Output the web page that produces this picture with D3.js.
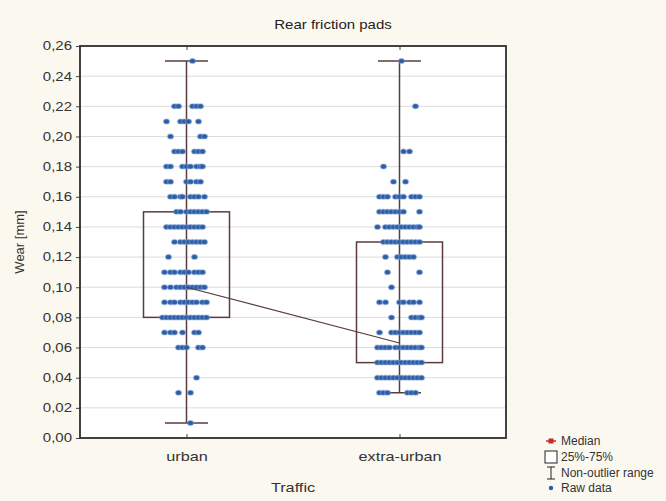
<!DOCTYPE html>
<html>
<head>
<meta charset="utf-8">
<script src="https://cdn.jsdelivr.net/npm/d3@7"></script>
<style>
  html, body { margin: 0; padding: 0; background: #fbf8f0; }
  svg { display: block; font-family: "Liberation Sans", Arial, sans-serif; }
</style>
</head>
<body>
<svg id="chart" width="666" height="501"></svg>
<script>
// Box plot summary per traffic type
const categories = ["urban", "extra-urban"];
const medians = [0.10, 0.063];
const q25 = [0.08, 0.05];
const q75 = [0.15, 0.13];
const whiskerLow = [0.01, 0.03];
const whiskerHigh = [0.25, 0.25];

// Y axis ticks
const yTicks = [0, 0.02, 0.04, 0.06, 0.08, 0.10, 0.12, 0.14, 0.16, 0.18, 0.20, 0.22, 0.24, 0.26];

// Raw measurements: each row is a wear level and the jitter slots of the points at that level
const urbanRaw = [
  [0.25, [3]],
  [0.22, [-6, -4, 3, 5, 7]],
  [0.21, [-10, -3, -1, 1, 6]],
  [0.20, [-8, 7, 9]],
  [0.19, [-6, -4, -2, 4, 6, 8]],
  [0.18, [-10, -8, -2, 0, 2, 5, 7, 8]],
  [0.17, [-10, -8, 0, 2, 5, 7]],
  [0.16, [-8, -6, -3, -2, 2, 4, 6, 9]],
  [0.15, [-5, -3, 0, 2, 4, 6, 8, 10]],
  [0.14, [-10, -8, -6, -4, -2, 0, 2, 4, 6, 8]],
  [0.13, [-6, -3, -1, 1, 3, 5, 7, 9]],
  [0.12, [-9, 4]],
  [0.11, [-11, -8, -6, -3, -1, 1, 4, 6, 8]],
  [0.10, [-11, -8, -5, -3, -1, 1, 3, 5, 7, 9]],
  [0.09, [-11, -8, -6, -3, -1, 1, 3, 5, 8, 10]],
  [0.08, [-12, -10, -8, -6, -4, -2, 0, 2, 4, 6, 8, 10]],
  [0.07, [-11, -8, -6, -2, 4, 6]],
  [0.06, [-4, -2, 0, 6, 8]],
  [0.04, [5]],
  [0.03, [-4, 2]],
  [0.01, [2]]
];
const extraUrbanRaw = [
  [0.25, [1]],
  [0.22, [8]],
  [0.19, [2, 5]],
  [0.18, [-8]],
  [0.17, [-3, 3]],
  [0.16, [-10, -8, -6, -2, 0, 2, 6, 8, 10]],
  [0.15, [-10, -8, -6, -4, -2, 0, 2, 10]],
  [0.14, [-11, -7, -5, -3, -1, 1, 3, 5, 7, 9, 10]],
  [0.13, [-8, -6, -4, -2, 0, 2, 4, 6, 8, 10]],
  [0.12, [-7, -1, 1, 3, 5, 7]],
  [0.11, [-6, 10]],
  [0.10, [-4]],
  [0.09, [-10, -7, 0, 2, 5, 7, 10]],
  [0.08, [-4, 6, 8, 10, 11]],
  [0.07, [-10, -4, -2, 0, 2, 4, 6, 8, 10]],
  [0.06, [-11, -9, -7, -5, -2, 0, 2, 4, 6, 8, 10, 11]],
  [0.05, [-11, -9, -7, -5, -3, -1, 1, 3, 5, 7, 9, 11]],
  [0.04, [-11, -9, -7, -5, -3, -1, 1, 3, 5, 7, 9, 11]],
  [0.03, [-10, -8, -6, 4, 6, 8]]
];
const rawByCategory = [urbanRaw, extraUrbanRaw];

const legendLabels = ["Median", "25%-75%", "Non-outlier range", "Raw data"];

const W = 666, H = 501;
const margin = { left: 80, right: 160, top: 46, bottom: 63 };
const svg = d3.select("#chart");

const x = d3.scalePoint().domain(categories).range([margin.left, W - margin.right]).padding(0.5);
const y = d3.scaleLinear().domain([0, 0.26]).range([H - margin.bottom, margin.top]);
const jitter = d3.scaleLinear().domain([-12, 12]).range([-24, 24]);
const boxHalf = 43, capHalf = 21.5;
const fmt = v => d3.format(".2f")(v).replace(".", ",");
const wide = 1.25; // horizontal text stretch

const boxColor = "#5a3c3c";
const dotColor = "#2c5ca6";

// plot area
svg.append("rect")
  .attr("x", margin.left).attr("y", margin.top)
  .attr("width", W - margin.right - margin.left).attr("height", H - margin.bottom - margin.top)
  .attr("fill", "#ffffff");

// horizontal grid
svg.append("g").selectAll("line").data(yTicks.slice(1, -1)).join("line")
  .attr("x1", margin.left).attr("x2", W - margin.right)
  .attr("y1", d => y(d)).attr("y2", d => y(d))
  .attr("stroke", "#dcdcdc").attr("stroke-width", 1);

// y axis
const yAxis = svg.append("g")
  .attr("transform", `translate(${margin.left},0)`)
  .call(d3.axisLeft(y).tickValues(yTicks).tickFormat(fmt).tickSize(4).tickPadding(2.4));
yAxis.select(".domain").remove();
yAxis.selectAll("line").attr("stroke", "#444");
yAxis.selectAll("text").attr("font-size", 12).attr("fill", "#333")
  .attr("transform", `scale(${wide},1)`);

// category axis
const xAxis = svg.append("g")
  .attr("transform", `translate(0,${H - margin.bottom})`)
  .call(d3.axisBottom(x).tickSize(-4).tickPadding(14));
xAxis.select(".domain").remove();
xAxis.selectAll("line").attr("stroke", "#444");
xAxis.selectAll("text").attr("font-size", 13).attr("fill", "#333")
  .attr("transform", `scale(${wide},1)`);

svg.append("g").attr("transform", `translate(0,${margin.top})`)
  .call(d3.axisTop(x).tickSize(-4).tickFormat(""))
  .call(g => g.select(".domain").remove())
  .selectAll("line").attr("stroke", "#444");

// frame
svg.append("rect")
  .attr("x", margin.left).attr("y", margin.top)
  .attr("width", W - margin.right - margin.left).attr("height", H - margin.bottom - margin.top)
  .attr("fill", "none").attr("stroke", "#2e2e2e").attr("stroke-width", 1.8);

// boxes and whiskers
const boxes = svg.append("g").selectAll("g").data(categories).join("g");
boxes.append("line")
  .attr("x1", d => x(d)).attr("x2", d => x(d))
  .attr("y1", (d, i) => y(whiskerLow[i])).attr("y2", (d, i) => y(whiskerHigh[i]))
  .attr("stroke", boxColor).attr("stroke-width", 1.5);
boxes.append("line")
  .attr("x1", d => x(d) - capHalf).attr("x2", d => x(d) + capHalf)
  .attr("y1", (d, i) => y(whiskerLow[i])).attr("y2", (d, i) => y(whiskerLow[i]))
  .attr("stroke", boxColor).attr("stroke-width", 1.5);
boxes.append("line")
  .attr("x1", d => x(d) - capHalf).attr("x2", d => x(d) + capHalf)
  .attr("y1", (d, i) => y(whiskerHigh[i])).attr("y2", (d, i) => y(whiskerHigh[i]))
  .attr("stroke", boxColor).attr("stroke-width", 1.5);
boxes.append("rect")
  .attr("x", d => x(d) - boxHalf).attr("width", boxHalf * 2)
  .attr("y", (d, i) => y(q75[i])).attr("height", (d, i) => y(q25[i]) - y(q75[i]))
  .attr("fill", "none").attr("stroke", boxColor).attr("stroke-width", 1.5);

// raw data points
const points = [];
rawByCategory.forEach((rows, ci) => {
  rows.forEach(([wear, slots]) => slots.forEach(s => points.push({ cat: categories[ci], wear, s })));
});
svg.append("g").selectAll("ellipse").data(points).join("ellipse")
  .attr("cx", d => x(d.cat) + jitter(d.s))
  .attr("cy", d => y(d.wear))
  .attr("rx", 3).attr("ry", 2.5)
  .attr("fill", dotColor)
  .attr("stroke", "#8fb0dc").attr("stroke-opacity", 0.35).attr("stroke-width", 1.5);

// median line
svg.append("path")
  .datum(categories)
  .attr("d", d3.line().x(d => x(d)).y((d, i) => y(medians[i])))
  .attr("fill", "none").attr("stroke", boxColor).attr("stroke-width", 1.2);

// title and axis titles
svg.append("text").attr("transform", `translate(333,29) scale(1.2,1)`).attr("text-anchor", "middle")
  .attr("font-size", 12.5).attr("fill", "#222").text("Rear friction pads");
svg.append("text").attr("transform", `translate(${(margin.left + W - margin.right) / 2},492) scale(${wide},1)`)
  .attr("text-anchor", "middle").attr("font-size", 13).attr("fill", "#333").text("Traffic");
svg.append("text")
  .attr("transform", `translate(24,${(margin.top + H - margin.bottom) / 2}) rotate(-90)`)
  .attr("text-anchor", "middle").attr("font-size", 13).attr("fill", "#333").text("Wear [mm]");

// legend
const lg = svg.append("g").attr("transform", "translate(551,0)");
const rowsY = [441, 457, 473, 488];
const lgItems = lg.selectAll("g").data(legendLabels).join("g")
  .attr("transform", (d, i) => `translate(0,${rowsY[i]})`);
lgItems.append("text").attr("x", 10).attr("y", 4).attr("font-size", 12).attr("fill", "#333").text(d => d);
// median symbol
lg.append("line").attr("x1", -5).attr("x2", 5).attr("y1", rowsY[0]).attr("y2", rowsY[0])
  .attr("stroke", "#c0302a").attr("stroke-width", 1.5);
lg.append("rect").attr("x", -2.5).attr("y", rowsY[0] - 2.5).attr("width", 5).attr("height", 5).attr("fill", "#c0302a");
// box symbol
lg.append("rect").attr("x", -6).attr("y", rowsY[1] - 6).attr("width", 12).attr("height", 12)
  .attr("fill", "#fff").attr("stroke", "#222").attr("stroke-width", 1);
// whisker symbol
lg.append("path").attr("d", `M-4,${rowsY[2] - 6}H4M0,${rowsY[2] - 6}V${rowsY[2] + 6}M-4,${rowsY[2] + 6}H4`)
  .attr("fill", "none").attr("stroke", "#222").attr("stroke-width", 1);
// raw data symbol
lg.append("circle").attr("cx", 0).attr("cy", rowsY[3]).attr("r", 2.2).attr("fill", dotColor);
</script>
</body>
</html>
